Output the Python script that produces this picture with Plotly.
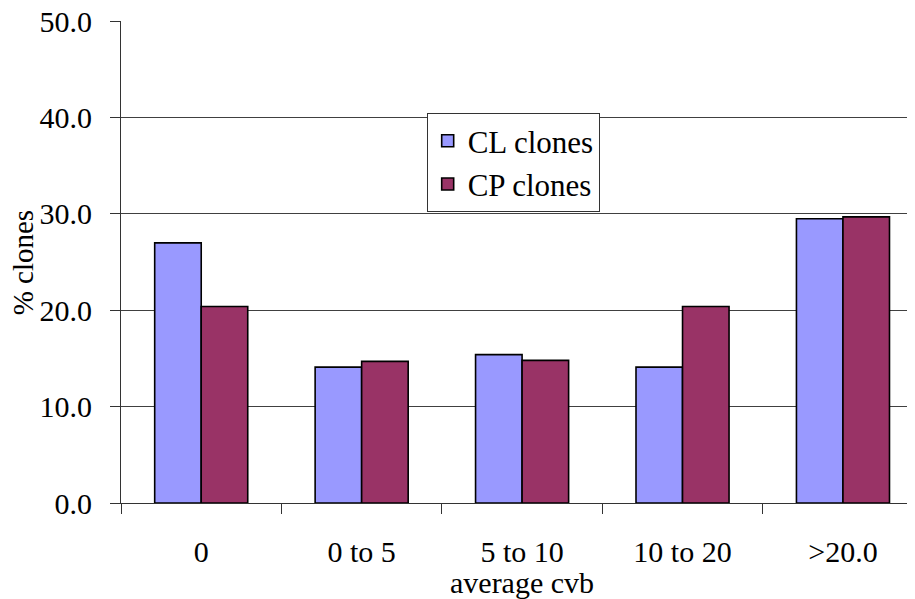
import plotly.graph_objects as go

categories = ["0", "0 to 5", "5 to 10", "10 to 20", ">20.0"]
cl_values = [27.0, 14.1, 15.4, 14.1, 29.5]
cp_values = [20.4, 14.7, 14.8, 20.4, 29.7]
y_ticks = [0, 10, 20, 30, 40, 50]
y_tick_labels = ["0.0", "10.0", "20.0", "30.0", "40.0", "50.0"]

FONT = "Liberation Serif, Times New Roman, serif"

fig = go.Figure()
fig.add_trace(go.Bar(
    x=categories, y=cl_values, name="CL clones",
    marker=dict(color="#9999FF", line=dict(color="#000000", width=1.6)),
))
fig.add_trace(go.Bar(
    x=categories, y=cp_values, name="CP clones",
    marker=dict(color="#993366", line=dict(color="#000000", width=1.6)),
))

fig.update_layout(
    width=907, height=591,
    margin=dict(l=113, r=0, t=13, b=96),
    paper_bgcolor="white", plot_bgcolor="white",
    barmode="group", bargap=0.42, bargroupgap=0,
    font=dict(family=FONT, size=30, color="black"),
    showlegend=True,
    legend=dict(
        x=0.385, y=0.809, xanchor="left", yanchor="top",
        bgcolor="white", bordercolor="#333333", borderwidth=1,
        font=dict(family=FONT, size=31, color="black"),
        tracegroupgap=0, itemwidth=30,
    ),
    xaxis=dict(
        type="category", range=[-0.5, 4.449], automargin=False,
        showgrid=False, showline=True, linecolor="#333333", linewidth=1,
        ticks="outside", ticklen=10, tickcolor="#333333", tickson="boundaries",
        ticklabelstandoff=22,
        tickfont=dict(family=FONT, size=30, color="black"),
    ),
    yaxis=dict(
        range=[0, 50.03], tickvals=y_ticks, ticktext=y_tick_labels, automargin=False,
        ticklabeloverflow="allow",
        showgrid=True, gridcolor="#404040", gridwidth=1,
        showline=True, linecolor="#333333", linewidth=1,
        ticks="outside", ticklen=10, tickcolor="#333333",
        ticklabelstandoff=12, zeroline=False,
        tickfont=dict(family=FONT, size=30, color="black"),
    ),
    annotations=[
        dict(text="average cvb", xref="paper", yref="paper",
             x=0.505, y=-0.165, xanchor="center", yanchor="middle",
             showarrow=False, font=dict(family=FONT, size=30, color="black")),
        dict(text="% clones", xref="paper", yref="paper",
             x=-0.123, y=0.5, xanchor="center", yanchor="middle", textangle=-90,
             showarrow=False, font=dict(family=FONT, size=29, color="black")),
    ],
)

fig.write_html("out.html")
